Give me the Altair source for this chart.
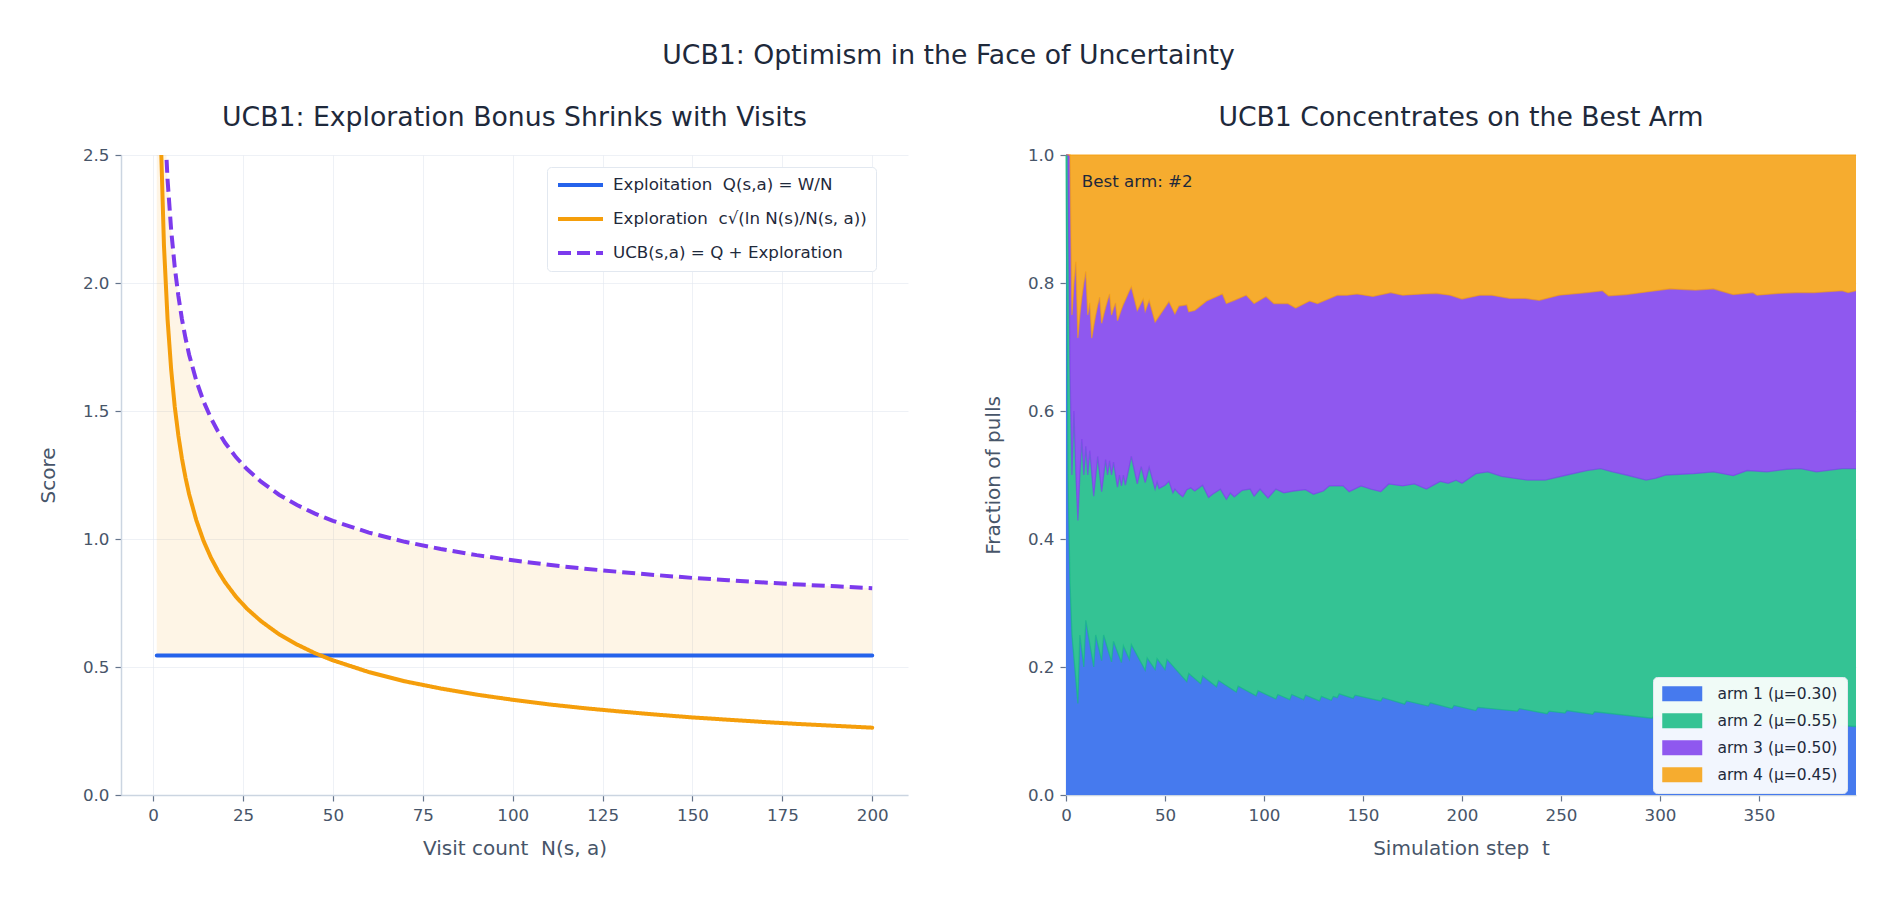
import altair as alt
import pandas as pd

# ---------------- Left panel data ----------------
visits = [1, 2, 3, 4, 5, 6, 7, 8, 9, 10, 12, 14, 16, 18, 20, 23, 26, 30, 35, 40,
          45, 50, 60, 70, 80, 90, 100, 110, 120, 130, 140, 150, 160, 170, 180, 190, 200]
exploitation_q = 0.545
exploration = [3.717, 2.628, 2.146, 1.859, 1.662, 1.517, 1.405, 1.314, 1.239, 1.175,
               1.073, 0.993, 0.929, 0.876, 0.831, 0.775, 0.729, 0.679, 0.628, 0.588,
               0.554, 0.526, 0.480, 0.444, 0.416, 0.392, 0.372, 0.354, 0.339, 0.326,
               0.314, 0.303, 0.294, 0.285, 0.277, 0.270, 0.263]
ucb_score = [4.262, 3.173, 2.691, 2.404, 2.207, 2.062, 1.950, 1.859, 1.784, 1.720,
             1.618, 1.538, 1.474, 1.421, 1.376, 1.320, 1.274, 1.224, 1.173, 1.133,
             1.099, 1.071, 1.025, 0.989, 0.961, 0.937, 0.917, 0.899, 0.884, 0.871,
             0.859, 0.848, 0.839, 0.830, 0.822, 0.815, 0.808]

series_names = ["Exploitation\u00a0 Q(s,a) = W/N",
                "Exploration\u00a0 c√(ln N(s)/N(s, a))",
                "UCB(s,a) = Q + Exploration"]
series_colors = ["#2563eb", "#f59e0b", "#7c3aed"]

# ---------------- Right panel data ----------------
arm_labels = ["arm 1 (μ=0.30)", "arm 2 (μ=0.55)", "arm 3 (μ=0.50)", "arm 4 (μ=0.45)"]
arm_fill = ["#467aee", "#34c394", "#8f58ef", "#f6ac2f"]
arm_edge = ["#2563eb", "#10b981", "#7c3aed", "#f59e0b"]

# cumulative share of arm 1
cum1_t = [0, 1, 2, 3, 6, 7, 9, 10, 14, 15, 18, 19, 23, 24, 28, 29, 32, 33, 40, 41,
          45, 46, 50, 51, 61, 62, 68, 69, 76, 77, 86, 87, 96, 97, 106, 107, 113, 114,
          120, 121, 128, 129, 134, 135, 137, 138, 145, 146, 159, 160, 171, 172, 183, 184,
          195, 196, 207, 208, 228, 229, 243, 244, 252, 253, 266, 267, 296, 297, 330, 331,
          365, 366, 399]
cum1_v = [1.0, 0.5, 0.333, 0.25, 0.143, 0.25, 0.2, 0.273, 0.2, 0.25, 0.21, 0.25, 0.208, 0.24,
          0.207, 0.233, 0.212, 0.235, 0.195, 0.214, 0.196, 0.213, 0.196, 0.212, 0.177, 0.19,
          0.174, 0.186, 0.169, 0.179, 0.161, 0.17, 0.155, 0.163, 0.15, 0.157, 0.149, 0.157,
          0.149, 0.156, 0.147, 0.154, 0.148, 0.154, 0.152, 0.158, 0.151, 0.156, 0.147, 0.152,
          0.142, 0.147, 0.139, 0.144, 0.135, 0.14, 0.132, 0.137, 0.131, 0.135, 0.127, 0.131,
          0.128, 0.132, 0.126, 0.13, 0.12, 0.124, 0.115, 0.118, 0.110, 0.113, 0.107]

# cumulative share of arms 1+2
cum12_t = [0, 1, 2, 3, 4, 5, 6, 7, 8, 9, 10, 11, 12, 14, 16, 18, 20, 21, 22, 23, 24, 26,
           27, 28, 29, 30, 33, 36, 37, 38, 40, 42, 45, 46, 47, 50, 52, 54, 55, 57, 59, 61,
           63, 65, 69, 72, 74, 78, 81, 83, 85, 89, 93, 95, 98, 102, 106, 110, 115, 121,
           125, 130, 133, 140, 143, 149, 154, 159, 163, 170, 176, 182, 189, 193, 197, 200,
           207, 213, 220, 226, 233, 242, 253, 263, 270, 276, 283, 293, 298, 303, 317, 327,
           337, 344, 354, 364, 371, 379, 392, 399]
cum12_v = [1.0, 1.0, 0.667, 0.5, 0.6, 0.5, 0.429, 0.5, 0.556, 0.5, 0.545, 0.5, 0.538, 0.467,
           0.529, 0.474, 0.524, 0.5, 0.522, 0.5, 0.52, 0.481, 0.5, 0.483, 0.5, 0.484, 0.529,
           0.486, 0.5, 0.513, 0.488, 0.512, 0.478, 0.489, 0.479, 0.484, 0.49, 0.472, 0.478,
           0.471, 0.466, 0.477, 0.48, 0.475, 0.484, 0.465, 0.47, 0.478, 0.462, 0.472, 0.466,
           0.476, 0.478, 0.467, 0.478, 0.464, 0.478, 0.472, 0.475, 0.477, 0.47, 0.475, 0.483,
           0.483, 0.474, 0.483, 0.478, 0.474, 0.486, 0.483, 0.486, 0.478, 0.49, 0.487, 0.492,
           0.487, 0.502, 0.505, 0.498, 0.495, 0.492, 0.492, 0.5, 0.507, 0.51, 0.505, 0.5,
           0.492, 0.495, 0.5, 0.502, 0.505, 0.499, 0.507, 0.505, 0.509, 0.51, 0.505, 0.51, 0.51]

# cumulative share of arms 1+2+3
cum123_t = [0, 1, 2, 3, 4, 5, 6, 7, 8, 9, 10, 11, 12, 13, 14, 15, 16, 17, 18, 19, 20, 21,
            22, 23, 24, 25, 26, 27, 28, 29, 30, 31, 32, 33, 36, 38, 39, 40, 42, 45, 52, 55,
            57, 61, 62, 65, 71, 79, 81, 85, 91, 95, 101, 105, 112, 116, 123, 127, 137, 142,
            147, 155, 164, 170, 180, 187, 194, 200, 209, 215, 224, 232, 239, 249, 263, 271,
            274, 283, 293, 305, 318, 327, 337, 347, 349, 360, 369, 378, 392, 395, 399]
cum123_v = [1.0, 1.0, 1.0, 0.75, 0.8, 0.833, 0.714, 0.75, 0.778, 0.8, 0.818, 0.75, 0.769,
            0.714, 0.733, 0.75, 0.765, 0.778, 0.737, 0.75, 0.762, 0.773, 0.783, 0.75, 0.76,
            0.769, 0.741, 0.75, 0.759, 0.767, 0.774, 0.781, 0.788, 0.794, 0.757, 0.769, 0.775,
            0.756, 0.773, 0.739, 0.771, 0.752, 0.764, 0.766, 0.755, 0.757, 0.772, 0.783, 0.768,
            0.773, 0.781, 0.768, 0.779, 0.768, 0.768, 0.761, 0.772, 0.768, 0.781, 0.781, 0.783,
            0.779, 0.785, 0.781, 0.783, 0.784, 0.781, 0.775, 0.781, 0.781, 0.776, 0.776, 0.773,
            0.781, 0.785, 0.788, 0.78, 0.782, 0.786, 0.791, 0.789, 0.791, 0.782, 0.785, 0.781,
            0.784, 0.785, 0.785, 0.788, 0.785, 0.788]

full_t = [0, 399]
full_v = [1.0, 1.0]

FONT = "DejaVu Sans"
TXT = "#1e293b"
LBL = "#475569"

# ---------------- Left panel ----------------
line_rows = []
for i, n in enumerate(visits):
    line_rows.append({"n": n, "value": exploitation_q, "series": series_names[0]})
    line_rows.append({"n": n, "value": exploration[i], "series": series_names[1]})
    line_rows.append({"n": n, "value": ucb_score[i], "series": series_names[2]})
lines_df = pd.DataFrame(line_rows)
band_df = pd.DataFrame({"n": visits, "lo": [exploitation_q] * len(visits), "value": ucb_score})

xl = alt.X("n:Q", scale=alt.Scale(domain=[-8.95, 209.95], nice=False, zero=False),
           axis=alt.Axis(values=list(range(0, 201, 25)), title="Visit count\u00a0 N(s, a)",
                         labelFlush=False))
yl = alt.Y("value:Q", scale=alt.Scale(domain=[0, 2.5], nice=False, zero=False),
           axis=alt.Axis(values=[0, 0.5, 1.0, 1.5, 2.0, 2.5], format=".1f", title="Score",
                         labelFlush=False))

legend_left = alt.Legend(
    title=None, orient="none", legendX=426, legendY=12,
    symbolType="M-1,0H5.43", symbolSize=196, symbolStrokeWidth=4,
    labelFontSize=16.7, labelColor=TXT, labelFont=FONT, labelLimit=500,
    rowPadding=16, padding=9, labelOffset=39,
    fillColor="#ffffff", strokeColor="#e2e8f0", cornerRadius=4,
)
color_l = alt.Color("series:N", scale=alt.Scale(domain=series_names, range=series_colors),
                    legend=legend_left)
dash_l = alt.StrokeDash("series:N",
                        scale=alt.Scale(domain=series_names, range=[[1, 0], [1, 0], [13, 6]]),
                        legend=legend_left)

band = alt.Chart(band_df).mark_area(color="#f59e0b", opacity=0.1, clip=True).encode(
    x=xl, y=yl, y2="lo:Q")

def line_layer(idx, cap):
    return alt.Chart(lines_df).transform_filter(
        alt.datum.series == series_names[idx]
    ).mark_line(strokeWidth=4, strokeCap=cap, clip=True).encode(
        x=xl, y=yl, color=color_l, strokeDash=dash_l)

left = alt.layer(band, line_layer(0, "round"), line_layer(1, "round"),
                 line_layer(2, "butt")).properties(
    width=787, height=640,
    title=alt.TitleParams("UCB1: Exploration Bonus Shrinks with Visits", fontSize=26.7,
                          font=FONT, color=TXT, fontWeight="normal", offset=15))

# ---------------- Right panel ----------------
def area_df(ts, vs, label):
    return pd.DataFrame({"t": ts, "top": vs, "arm": [label] * len(ts)})

xr = alt.X("t:Q", scale=alt.Scale(domain=[0, 399], nice=False, zero=False),
           axis=alt.Axis(values=list(range(0, 351, 50)), title="Simulation step\u00a0 t",
                         labelFlush=False))
yr = alt.Y("top:Q", scale=alt.Scale(domain=[0, 1], nice=False), stack=None,
           axis=alt.Axis(values=[0, 0.2, 0.4, 0.6, 0.8, 1.0], format=".1f",
                         title="Fraction of pulls", labelFlush=False))
legend_right = alt.Legend(
    title=None, orient="none", legendX=587, legendY=522,
    symbolType="M-1,-1H4.333V1H-1Z", symbolSize=225, symbolOpacity=1,
    symbolStrokeWidth=0,
    labelFontSize=15.5, labelColor=TXT, labelFont=FONT, labelLimit=300,
    rowPadding=10, padding=9, labelOffset=40,
    fillColor="rgba(255,255,255,0.93)", strokeColor="#e2e8f0", cornerRadius=4,
)
color_r = alt.Color("arm:N", scale=alt.Scale(domain=arm_labels, range=arm_fill),
                    legend=legend_right)

def arm_area(ts, vs, idx):
    return alt.Chart(area_df(ts, vs, arm_labels[idx])).mark_area(
        opacity=1, interpolate="linear").encode(x=xr, y=yr, color=color_r)

def edge_line(ts, vs, idx):
    return alt.Chart(area_df(ts, vs, arm_labels[idx])).mark_line(
        strokeWidth=1.3, opacity=0.6, color=arm_edge[idx]).encode(x=xr, y=yr)

best_df = pd.DataFrame({"t": [8], "top": [0.958], "label": ["Best arm: #2"]})
best_text = alt.Chart(best_df).mark_text(
    align="left", baseline="middle", fontSize=16.7, font=FONT, color=TXT).encode(
    x=xr, y=yr, text="label:N")

right = alt.layer(
    arm_area(full_t, full_v, 3),
    arm_area(cum123_t, cum123_v, 2),
    arm_area(cum12_t, cum12_v, 1),
    arm_area(cum1_t, cum1_v, 0),
    edge_line(full_t, full_v, 3),
    edge_line(cum123_t, cum123_v, 3),
    edge_line(cum12_t, cum12_v, 2),
    edge_line(cum1_t, cum1_v, 1),
    best_text,
).properties(
    width=790, height=640,
    title=alt.TitleParams("UCB1 Concentrates on the Best Arm", fontSize=26.7,
                          font=FONT, color=TXT, fontWeight="normal", offset=15))

chart = alt.hconcat(left, right, spacing=75).resolve_scale(
    color="independent", strokeDash="independent"
).resolve_legend(color="independent", strokeDash="independent").properties(
    title=alt.TitleParams("UCB1: Optimism in the Face of Uncertainty", fontSize=26.7,
                          font=FONT, color=TXT, fontWeight="normal", anchor="middle",
                          offset=36),
    padding={"left": 38, "top": 42, "right": 20, "bottom": 20},
).configure(font=FONT).configure_view(stroke=None).configure_axis(
    labelFont=FONT, titleFont=FONT, labelFontSize=16.7, titleFontSize=20,
    labelColor=LBL, titleColor=LBL, titleFontWeight="normal",
    domainColor="#cbd5e1", domainWidth=1.5, tickColor="#64748b", tickSize=6,
    tickWidth=1.2, labelPadding=6, titlePadding=15,
    gridColor="#e2e8f0", gridOpacity=0.6, gridWidth=1,
).configure_axisY(titlePadding=24)

chart.save("out.html", embed_options={"renderer": "svg", "actions": False})
